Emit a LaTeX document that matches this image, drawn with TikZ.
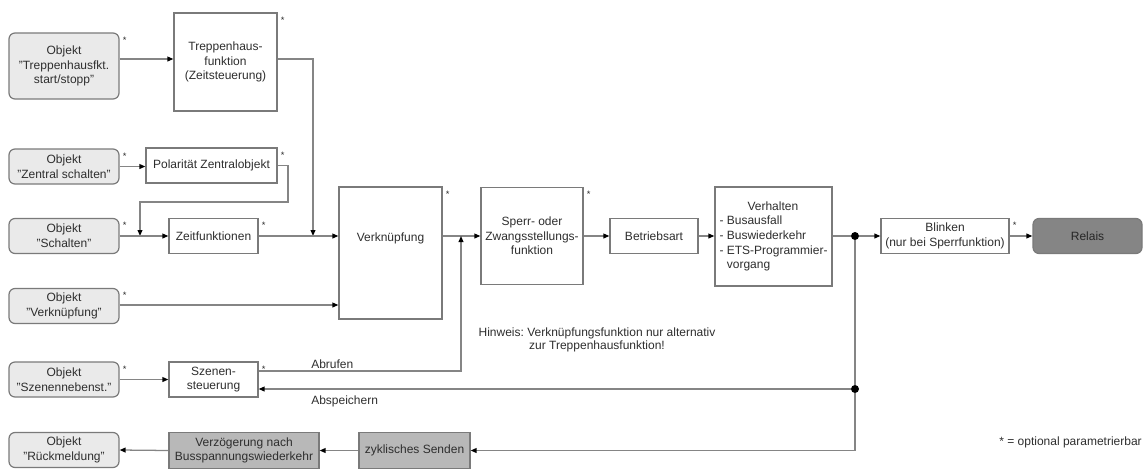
\documentclass[tikz,border=0pt]{standalone}
\usepackage{fontspec}
\setmainfont{Liberation Sans}
\usetikzlibrary{arrows.meta,calc}
\definecolor{ln}{HTML}{858585}
\definecolor{bd}{HTML}{7A7A7A}
\definecolor{tx}{HTML}{2E2E2E}
\definecolor{objfill}{HTML}{EAEAEA}
\definecolor{midfill}{HTML}{B8B8B8}
\definecolor{darkfill}{HTML}{858585}
\frenchspacing
\begin{document}
\begin{tikzpicture}[x=0.75pt,y=-0.75pt,
 every node/.style={font=\fontsize{9}{11}\selectfont, text=tx},
 wh/.style 2 args={minimum width=#1*0.75pt, minimum height=#2*0.75pt},
 box/.style={draw=bd, line width=0.9pt, fill=white, align=center, inner sep=1pt},
 obj/.style={box, fill=objfill, rounded corners=4.5pt, wh={110}{35}},
 gbox/.style={box, fill=midfill},
 starlbl/.style={font=\fontsize{7}{7}\selectfont, inner sep=0pt, anchor=base, xshift=3.75pt, yshift=-8.25pt},
 opt/.style={label={[starlbl]north east:*}},
 conn/.style={draw=ln, line width=0.95pt},
 arr/.style={conn, -{Triangle[length=4.5pt,width=3.6pt,color=black]}},
 dot/.style={circle, fill=black, inner sep=0pt, minimum size=6pt},
 lbl/.style={inner sep=0pt}
]
\useasboundingbox (0,0) rectangle (1145,468);

% nodes
\node[obj, wh={110}{66}, opt] (o1) at (64,66) {Objekt\\"Treppenhausfkt.\\start/stopp"};
\node[box, wh={103}{98}, opt] (tr) at (225.5,62) {Treppenhaus-\\funktion\\(Zeitsteuerung)};
\node[obj, opt] (o2) at (64,166.5) {Objekt\\"Zentral schalten"};
\node[box, wh={131}{35}, opt] (pol) at (211.5,165.5) {Polarität Zentralobjekt};
\node[obj, opt] (o3) at (64,236) {Objekt\\"Schalten"};
\node[box, wh={89}{35}, opt] (zf) at (213.5,236) {Zeitfunktionen};
\node[obj, opt] (o4) at (64,306) {Objekt\\"Verknüpfung"};
\node[box, wh={103}{132}, opt, label={[lbl, yshift=11.25pt]center:Verknüpfung}] (vk) at (390.5,253) {};
\node[box, wh={102}{97}, opt] (sp) at (532,236) {Sperr- oder\\Zwangsstellungs-\\funktion};
\node[box, wh={88}{35}] (ba) at (654,236) {Betriebsart};
\node[box, wh={117}{99}, align=left] (vh) at (773.5,236.5) {\hspace*{21pt}Verhalten\\- Busausfall\\- Buswiederkehr\\- ETS-Programmier-\\\phantom{- }vorgang};
\node[dot] (d1) at (855,236) {};
\node[box, wh={128}{35}, opt] (bl) at (945,236) {Blinken\\(nur bei Sperrfunktion)};
\node[box, fill=darkfill, rounded corners=4.5pt, wh={109}{35}, text=black!85] (re) at (1087.5,236) {Relais};
\node[obj, opt] (o5) at (64,379.5) {Objekt\\"Szenennebenst."};
\node[box, wh={89}{35}, opt] (szn) at (213.5,379.5) {Szenen-\\steuerung};
\node[dot] (d2) at (855,389) {};
\node[obj] (o6) at (64,450) {Objekt\\"Rückmeldung"};
\node[gbox, wh={150}{36}] (vz) at (244,450.5) {Verzögerung nach\\Busspannungswiederkehr};
\node[gbox, wh={111}{36}] (zs) at (414.5,450.5) {zyklisches Senden};

\node[lbl, align=center, font=\fontsize{9}{9.75}\selectfont] (hw) at (597,339.5) {Hinweis: Verknüpfungsfunktion nur alternativ\\zur Treppenhausfunktion!};
\node[lbl, anchor=east] (leg) at (1142,442) {* = optional parametrierbar};
\node[lbl, anchor=west] (abr) at (311,364) {Abrufen};
\node[lbl, anchor=west] (absp) at (311,401) {Abspeichern};

% helper coordinates
\coordinate (ya) at (0,59);
\coordinate (jt) at (313,236);
\coordinate (jp1) at (288,202);
\coordinate (jp2) at (140,236);
\coordinate (jv) at (461,236);
\coordinate (yab) at (0,371);
\coordinate (yvk) at (0,305);

% connectors
\draw[arr] (o1.east |- ya) -- (tr.west |- ya);
\draw[arr] (tr.east |- ya) -| (jt);
\draw[arr] (o2.east) -- (o2.east -| pol.west);
\draw[arr] (pol.east) -| (jp1) -| (jp2);
\draw[arr] (o3.east) -- (o3.east -| zf.west);
\draw[arr] (zf.east |- o3.east) -- (vk.west |- o3.east);
\draw[arr] (o4.east |- yvk) -- (vk.west |- yvk);
\draw[arr] (vk.east |- jv) -- (sp.west |- jv);
\draw[arr] (szn.east |- yab) -| (jv);
\draw[arr] (sp.east |- jv) -- (ba.west |- jv);
\draw[arr] (ba.east |- jv) -- (vh.west |- jv);
\draw[conn] (vh.east |- d1) -- (d1);
\draw[arr] (d1) -- (bl.west |- d1);
\draw[arr] (bl.east |- d1) -- (re.west |- d1);
\draw[conn] (d1) -- (d2);
\draw[arr] (d2) -- (szn.east |- d2);
\draw[arr] (d2) |- (zs.east);
\draw[arr] (zs.west) -- (vz.east);
\draw[arr] (vz.west) -- (o6.east);
\draw[arr] (o5.east) -- (szn.west);
\end{tikzpicture}
\end{document}
